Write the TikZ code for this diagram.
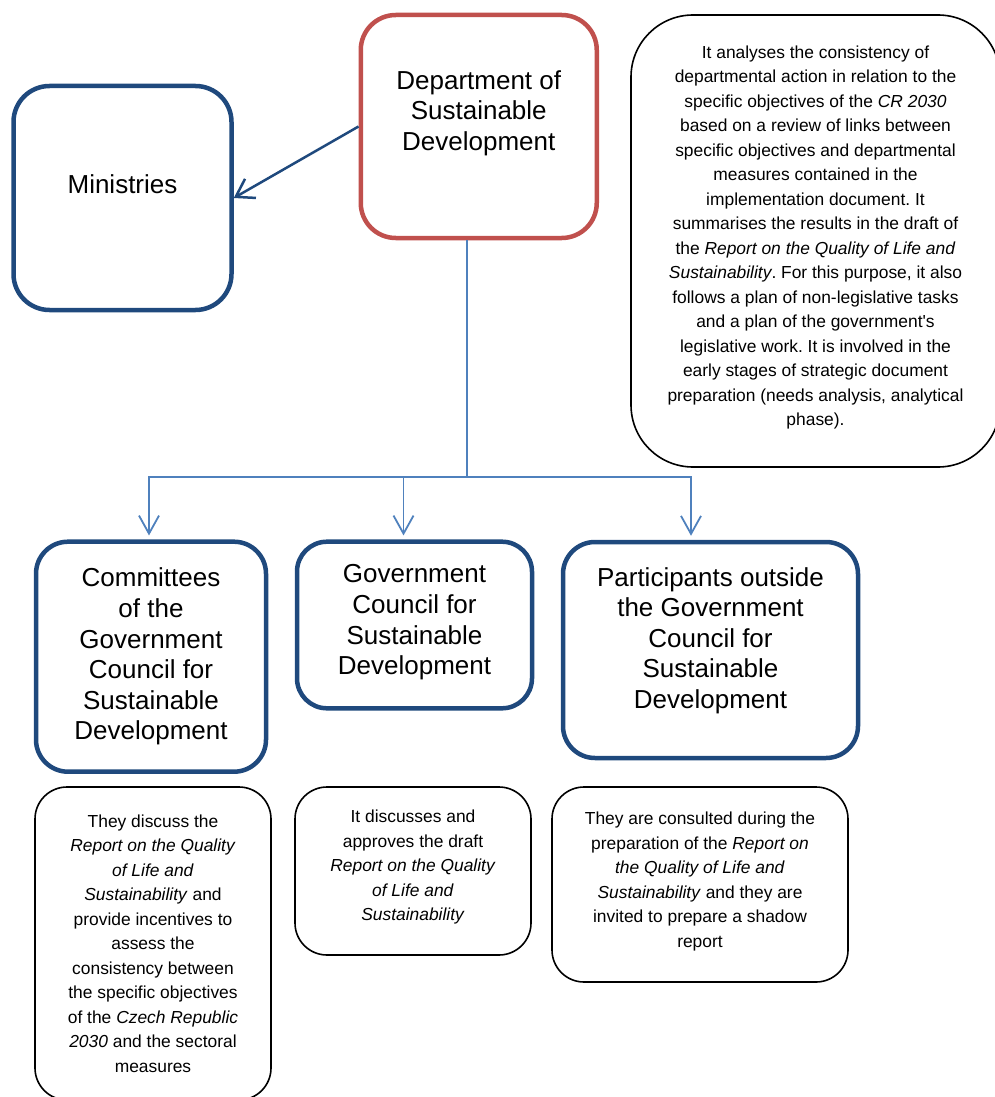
\documentclass[tikz,border=0pt]{standalone}
\usepackage{fontspec}
\setmainfont{Liberation Sans}
\usetikzlibrary{arrows.meta, positioning}
\definecolor{boxblue}{RGB}{31,73,125}
\definecolor{boxred}{RGB}{192,80,77}
\definecolor{linkblue}{RGB}{79,129,189}
\newcommand{\bigfont}{\fontsize{26}{30.6}\selectfont} % box titles
\newcommand{\notefont}{\fontsize{17.4}{24.5}\selectfont\frenchspacing} % note texts

\begin{document}
\begin{tikzpicture}[x=1pt, y=-1pt,
  bluebox/.style={draw=boxblue, line width=4.5pt, rounded corners=32pt},
  redbox/.style={draw=boxred, line width=4.5pt, rounded corners=35pt},
  notebox/.style={draw=black, line width=1.6pt, rounded corners=32pt},
  bigtxt/.style={align=center, font=\bigfont, inner sep=0pt},
  notetxt/.style={align=center, font=\notefont, inner sep=0pt},
  link/.style={draw=linkblue, line width=1.8pt},
  linkarrow/.style={link, -{Straight Barb[length=18pt, width=20pt]}}
]
\useasboundingbox (0,0) rectangle (994,1097);

% Department of Sustainable Development (red box)
\node[redbox, minimum width=236pt, minimum height=223pt] (dsd) at (478.75,126.5) {};
\node[bigtxt, yshift=13.5pt] (dsdtext) at (dsd) {Department of\\Sustainable\\Development};

% Ministries
\node[bluebox, rounded corners=36pt, minimum width=218pt, minimum height=224pt] (min) at (122.5,198) {};
\node[bigtxt, yshift=14pt] (mintext) at (min) {Ministries};

% note on the department
\node[notebox, rounded corners=62pt, minimum width=369pt, minimum height=452pt] (dsdnote) at (815.5,241) {};
\node[notetxt, yshift=3.5pt] (dsdnotetext) at (dsdnote) {It analyses the consistency of\\
departmental action in relation to the\\
specific objectives of the \textit{CR 2030}\\
based on a review of links between\\
specific objectives and departmental\\
measures contained in the\\
implementation document. It\\
summarises the results in the draft of\\
the \textit{Report on the Quality of Life and}\\
\textit{Sustainability}. For this purpose, it also\\
follows a plan of non-legislative tasks\\
and a plan of the government\textquotesingle s\\
legislative work. It is involved in the\\
early stages of strategic document\\
preparation (needs analysis, analytical\\
phase).};

% second row
\node[bluebox, minimum width=230pt, minimum height=230pt] (com) at (151,656.7) {};
\node[bigtxt] (comtext) at (com) {Committees\\of the\\Government\\Council for\\Sustainable\\Development};

\node[bluebox, rounded corners=30pt, minimum width=235pt, minimum height=166.6pt] (gcsd) at (414.5,625) {};
\node[bigtxt, yshift=2.5pt] (gcsdtext) at (gcsd) {Government\\Council for\\Sustainable\\Development};

\node[bluebox, minimum width=295pt, minimum height=216pt] (out) at (710.5,650) {};
\node[bigtxt, yshift=9.5pt] (outtext) at (out) {Participants outside\\the Government\\Council for\\Sustainable\\Development};

% notes under the second row
\node[notebox, minimum width=236pt, minimum height=313pt] (comnote) at (153,943.5) {};
\node[notetxt] (comnotetext) at (comnote) {They discuss the\\
\textit{Report on the Quality}\\
\textit{of Life and}\\
\textit{Sustainability} and\\
provide incentives to\\
assess the\\
consistency between\\
the specific objectives\\
of the \textit{Czech Republic}\\
\textit{2030} and the sectoral\\
measures};

\node[notebox, minimum width=236pt, minimum height=168pt] (gcsdnote) at (413,871) {};
\node[notetxt, yshift=4pt] (gcsdnotetext) at (gcsdnote) {It discusses and\\
approves the draft\\
\textit{Report on the Quality}\\
\textit{of Life and}\\
\textit{Sustainability}};

\node[notebox, minimum width=296pt, minimum height=195pt] (outnote) at (700,884.5) {};
\node[notetxt, yshift=3pt] (outnotetext) at (outnote) {They are consulted during the\\
preparation of the \textit{Report on}\\
\textit{the Quality of Life and}\\
\textit{Sustainability} and they are\\
invited to prepare a shadow\\
report};

% connectors
\draw[boxblue, line width=2.5pt, -{Straight Barb[length=17pt, width=22pt]}] (dsd.west) -- (min.east);

\coordinate (split) at (467,477);
\draw[link] ([xshift=-11.75pt]dsd.south) -- (split);
\draw[linkarrow] (split) -| ([xshift=-2pt, yshift=4pt]com.north);
\draw[linkarrow] (split) -| ([xshift=-11pt, yshift=4pt]gcsd.north);
\draw[linkarrow] (split) -| ([xshift=-19.5pt, yshift=4pt]out.north);

\end{tikzpicture}
\end{document}
